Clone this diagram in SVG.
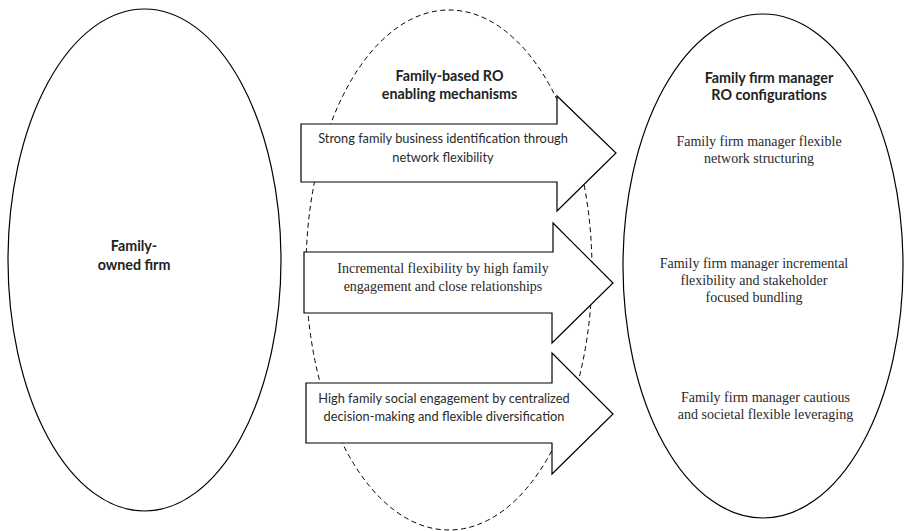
<svg xmlns="http://www.w3.org/2000/svg" width="904" height="531" viewBox="0 0 904 531">
<style>
.oval{fill:#fff;stroke:#000;stroke-width:1.2}
.dash{fill:none;stroke:#000;stroke-width:1;stroke-dasharray:5 3.5}
.arrow{fill:#fff;stroke:#000;stroke-width:1.2;stroke-linejoin:miter}
.head{font-family:Lato,"Liberation Sans",sans-serif;font-weight:bold;font-size:14.3px;fill:#222;text-anchor:middle}
.sans{font-family:Lato,"Liberation Sans",sans-serif;font-size:12.8px;fill:#2a2a2a;text-anchor:middle}
.serif{font-family:"Liberation Serif","Times New Roman",serif;font-size:14px;fill:#2a2a2a;text-anchor:middle}
</style>
<rect width="904" height="531" fill="#fff"/>
<g id="family-owned-firm">
<ellipse class="oval" cx="144.5" cy="260" rx="136.5" ry="251"/>
<text class="head" x="134" y="251">Family-</text>
<text class="head" x="134" y="270">owned firm</text>
</g>
<g id="ro-configurations">
<ellipse class="oval" cx="763" cy="266" rx="140" ry="252"/>
<text class="head" x="769" y="83">Family firm manager</text>
<text class="head" x="769" y="100">RO configurations</text>
<text class="serif" x="759" y="146">Family firm manager flexible</text>
<text class="serif" x="759" y="163">network structuring</text>
<text class="serif" x="754" y="268">Family firm manager incremental</text>
<text class="serif" x="754" y="285">flexibility and stakeholder</text>
<text class="serif" x="754" y="302">focused bundling</text>
<text class="serif" x="765.5" y="402">Family firm manager cautious</text>
<text class="serif" x="765.5" y="419">and societal flexible leveraging</text>
</g>
<g id="enabling-mechanisms">
<ellipse class="dash" cx="449" cy="270" rx="143" ry="260"/>
<text class="head" x="449.5" y="81">Family-based RO</text>
<text class="head" x="449.5" y="99">enabling mechanisms</text>
</g>
<g id="connectors">
<g id="arrow-1">
<polygon class="arrow" points="301,124 557,124 557,96 616,153 557,211 557,182 301,182"/>
<text class="sans" x="443" y="143">Strong family business identification through</text>
<text class="sans" x="443" y="162">network flexibility</text>
</g>
<g id="arrow-2">
<polygon class="arrow" points="304,252 553,252 553,223 613,283 552,343 552,313 304,313"/>
<text class="serif" x="443" y="273">Incremental flexibility by high family</text>
<text class="serif" x="443" y="291">engagement and close relationships</text>
</g>
<g id="arrow-3">
<polygon class="arrow" points="306,383 552,383 552,353 613,414 552,474 552,443 306,443"/>
<text class="sans" x="444" y="403">High family social engagement by centralized</text>
<text class="sans" x="444" y="421">decision-making and flexible diversification</text>
</g>
</g>
</svg>
